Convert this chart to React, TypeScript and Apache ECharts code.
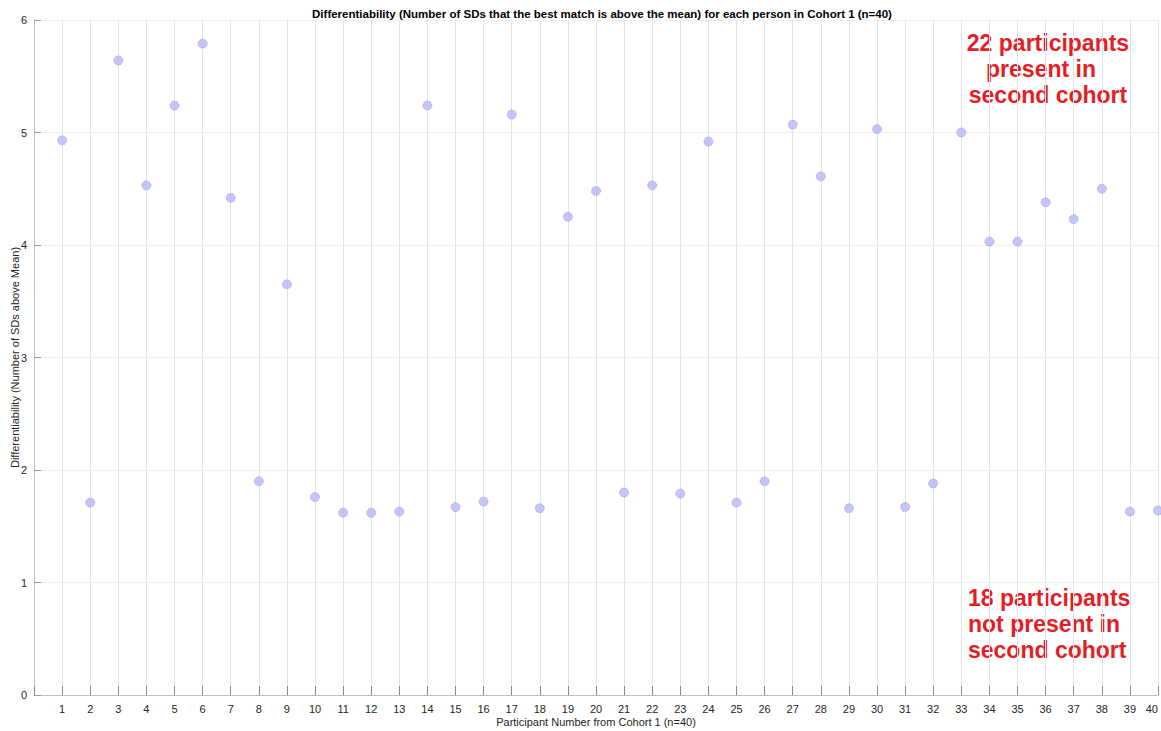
import React, { useEffect, useRef } from "react";
import * as echarts from "echarts";

const participants: number[] = Array.from({ length: 40 }, (_, i) => i + 1);
const differentiability: number[] = [
  4.93, 1.71, 5.64, 4.53, 5.24, 5.79, 4.42, 1.9, 3.65, 1.76,
  1.62, 1.62, 1.63, 5.24, 1.67, 1.72, 5.16, 1.66, 4.25, 4.48,
  1.8, 4.53, 1.79, 4.92, 1.71, 1.9, 5.07, 4.61, 1.66, 5.03,
  1.67, 1.88, 5.0, 4.03, 4.03, 4.38, 4.23, 4.5, 1.63, 1.64,
];
const yTicks: number[] = [0, 1, 2, 3, 4, 5, 6];
const titleText =
  "Differentiability (Number of SDs that the best match is above the mean) for each person in Cohort 1 (n=40)";
const xName = "Participant Number from Cohort 1 (n=40)";
const yName = "Differentiability (Number of SDs above Mean)";
const noteTop: string[] = ["22 participants", "present in", "second cohort"];
const noteBottom: string[] = ["18 participants", "not present in", "second cohort"];

export default function App() {
  const ref = useRef<HTMLDivElement>(null);
  useEffect(() => {
    if (!ref.current) return;
    const chart = echarts.init(ref.current, undefined, { renderer: "svg" });
    const font = "Liberation Sans, Arial, Helvetica, sans-serif";
    const red = "#e41e26";
    const noteFont = `bold 23px ${font}`;
    chart.setOption({
      animation: false,
      backgroundColor: "#ffffff",
      title: {
        text: titleText,
        left: 597,
        top: 3,
        textAlign: "center",
        textStyle: { fontSize: 11.5, fontWeight: "bold", color: "#000", fontFamily: font },
      },
      grid: {
        left: 34,
        right: 3,
        top: 20,
        bottom: 36,
        containLabel: false,
        outerBoundsMode: "none",
      },
      xAxis: {
        type: "value",
        min: 0,
        max: 40,
        interval: 1,
        name: xName,
        nameLocation: "middle",
        nameGap: 21,
        nameMoveOverlap: false,
        nameTextStyle: { fontSize: 11, color: "#262626", fontFamily: font },
        axisLine: { show: true, lineStyle: { color: "#c0c0c0", width: 1 } },
        axisTick: { show: true, inside: true, length: 9, lineStyle: { color: "#8a8a8a" } },
        axisLabel: {
          fontSize: 11,
          color: "#262626",
          fontFamily: font,
          margin: 8,
          formatter: (v: number) => (v === 0 ? "" : String(v)),
          showMaxLabel: true,
          alignMaxLabel: "right",
        },
        splitLine: { show: true, lineStyle: { color: "#e3e3e3", width: 1 } },
      },
      yAxis: {
        type: "value",
        min: 0,
        max: 6,
        interval: 1,
        name: yName,
        nameLocation: "middle",
        nameGap: 14,
        nameMoveOverlap: false,
        nameTextStyle: { fontSize: 11, color: "#262626", fontFamily: font },
        axisLine: { show: true, lineStyle: { color: "#c0c0c0", width: 1 } },
        axisTick: { show: true, inside: true, length: 7, lineStyle: { color: "#9a9a9a" } },
        axisLabel: {
          fontSize: 11,
          color: "#262626",
          fontFamily: font,
          margin: 7,
          formatter: (v: number) => (yTicks.includes(v) ? String(v) : ""),
        },
        splitLine: { show: true, lineStyle: { color: "#efefef", width: 1 } },
      },
      series: [
        {
          type: "scatter",
          symbol: "circle",
          symbolSize: 9,
          data: participants.map((p, i) => [p, differentiability[i]]),
          itemStyle: {
            color: "#b7b7f6",
            borderColor: "#8c8ce8",
            borderWidth: 1,
            borderType: "dotted",
          },
        },
      ],
      graphic: [
        ...noteTop.map((t, i) => ({
          type: "text",
          x: i === 1 ? 1041 : 1048,
          y: 43 + i * 26,
          style: {
            text: t,
            font: noteFont,
            fill: red,
            textAlign: "center",
            textVerticalAlign: "middle",
          },
        })),
        ...noteBottom.map((t, i) => ({
          type: "text",
          x: 968,
          y: 598 + i * 26,
          style: {
            text: t,
            font: noteFont,
            fill: red,
            textAlign: "left",
            textVerticalAlign: "middle",
          },
        })),
      ],
    });
    return () => chart.dispose();
  }, []);
  return (
    <div
      ref={ref}
      style={{ position: "fixed", left: 0, top: 0, width: 1161, height: 731, background: "#fff" }}
    />
  );
}
